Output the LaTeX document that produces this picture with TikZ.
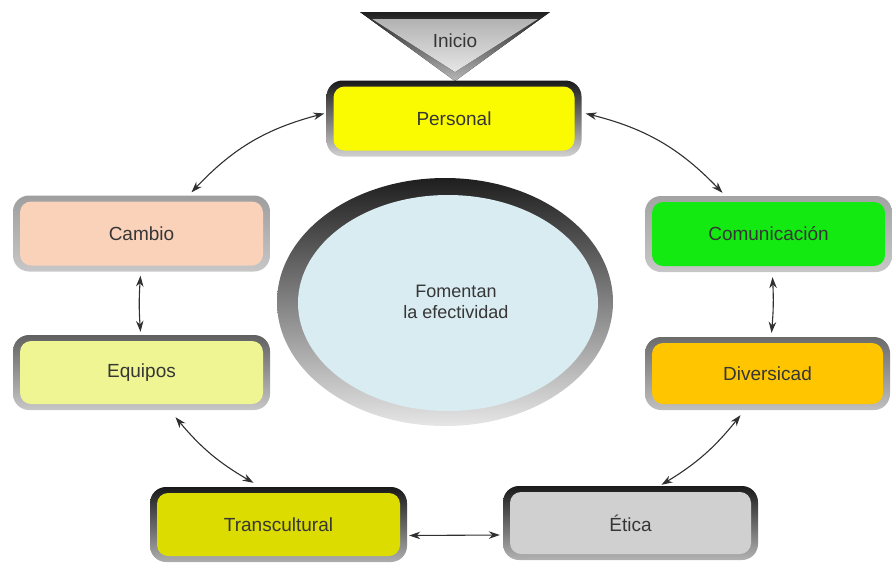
\documentclass[tikz,border=0pt]{standalone}
\usepackage{fontspec}
\setmainfont{Liberation Sans}
\usetikzlibrary{shapes.geometric,arrows.meta,calc}
\definecolor{txt}{HTML}{363636}
\definecolor{cpers}{HTML}{FAFA00}
\definecolor{ccamb}{HTML}{F9D2B9}
\definecolor{ccomu}{HTML}{12EA12}
\definecolor{cdiv}{HTML}{FFC600}
\definecolor{cequi}{HTML}{EEF592}
\definecolor{ctrans}{HTML}{DCDC00}
\definecolor{cetic}{HTML}{D0D0D0}
\definecolor{cblue}{HTML}{D9ECF2}
\definecolor{arr}{HTML}{303030}
\tikzset{
  lbl/.style={text=txt, font=\fontsize{19}{23}\selectfont},
  box/.style n args={3}{lbl, rounded corners=16pt, top color=#2, bottom color=#3,
    minimum width=255pt, minimum height=76pt, inner sep=0pt,
    path picture={\fill[#1, rounded corners=11pt]
      ($(path picture bounding box.south west)+(7pt,6pt)$) rectangle
      ($(path picture bounding box.north east)+(-7pt,-6pt)$);}},
  link/.style={draw=arr, line width=1.1pt, {Stealth[length=11pt,width=7.5pt]}-{Stealth[length=11pt,width=7.5pt]}},
}
\begin{document}
\begin{tikzpicture}[x=1pt,y=-1pt]
\useasboundingbox (0,0) rectangle (892,563);
% Inicio triangle
\fill[top color=black!88, bottom color=black!28] (360,12) -- (550,12) -- (455,81) -- cycle;
\fill[top color=black!30, bottom color=black!10] (372,19) -- (538,19) -- (455,72) -- cycle;
\node[lbl] (ini) at (455,41) {Inicio};
% central ellipse
\node[ellipse, minimum width=336pt, minimum height=248pt, top color=black!88, bottom color=black!10,
  path picture={\fill[cblue] ($(path picture bounding box.center)+(3pt,-1pt)$) ellipse [x radius=150pt, y radius=108pt];},
  lbl, align=center, font=\fontsize{18}{21}\selectfont] (c) at (445,302) {\hspace*{22pt}Fomentan\\\hspace*{22pt}la efectividad};
% boxes
\node[box={cpers}{black!90}{black!18}] (p) at (454,118.5) {Personal};
\node[box={ccamb}{black!38}{black!22}, minimum width=257pt] (ca) at (141.5,233.5) {Cambio};
\node[box={cequi}{black!62}{black!22}, minimum width=257pt, minimum height=75pt] (eq) at (141.5,372.5) {Equipos};
\node[box={ccomu}{black!36}{black!22}, minimum width=247pt] (co) at (768.5,234) {Comunicación};
\node[box={cdiv}{black!58}{black!25}, minimum width=245pt, minimum height=73pt] (d) at (767.5,373.5) {Diversicad};
\node[box={ctrans}{black!90}{black!32}, minimum width=257pt, minimum height=75pt] (t) at (278.5,524.5) {Transcultural};
\node[box={cetic}{black!90}{black!30}, minimum width=255pt, minimum height=74pt] (e) at (630.5,523) {Ética};
% connectors
\draw[link] ([xshift=-2pt,yshift=5pt]p.west) to[bend right=16] ([xshift=50pt,yshift=3pt]ca.north);
\draw[link] ([xshift=4pt,yshift=5pt]p.east) to[bend left=16] ([xshift=-46pt,yshift=3pt]co.north);
\draw[link] ([xshift=-1pt,yshift=-4pt]ca.south) to[bend right=4] ([xshift=-1pt,yshift=3pt]eq.north);
\draw[link] ([xshift=4pt,yshift=-5pt]co.south) to[bend left=4] ([xshift=4pt,yshift=4pt]d.north);
\draw[link] ([xshift=34pt,yshift=-7pt]eq.south) to[bend right=10] ([xshift=-25pt,yshift=4pt]t.north);
\draw[link] ([xshift=-27pt,yshift=-5pt]d.south) to[bend left=10] ([xshift=31pt,yshift=1pt]e.north);
\draw[link] ([xshift=2pt,yshift=-11pt]t.east) -- ([xshift=-3pt,yshift=-12pt]e.west);
\end{tikzpicture}
\end{document}
